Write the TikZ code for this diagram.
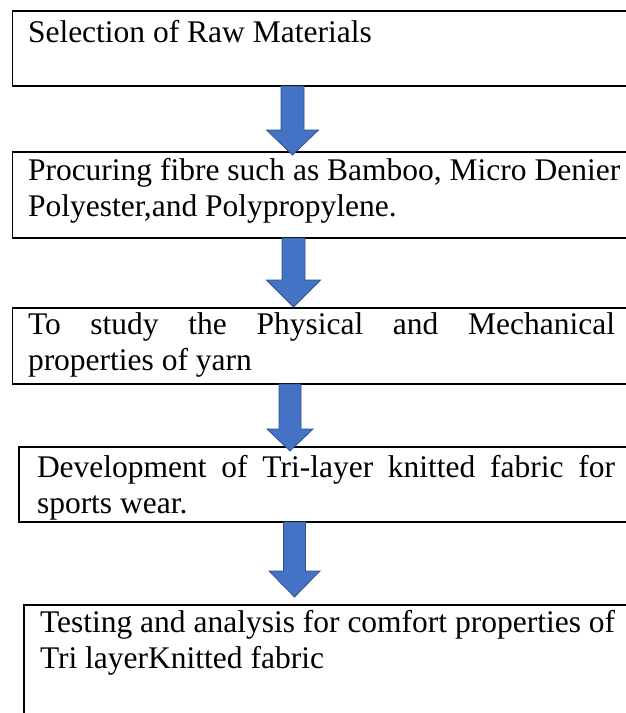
\documentclass[tikz,border=0pt]{standalone}
\usepackage{fontspec}
\setmainfont{Liberation Serif}
\usetikzlibrary{calc}
\definecolor{arrowfill}{HTML}{4472C4}
\definecolor{arrowline}{HTML}{2F528F}
\tikzset{
  boxsty/.style={draw=black, line width=1.6pt, rectangle, inner sep=0pt, outer sep=0pt, anchor=north west},
  txt/.style={inner sep=0pt, outer sep=0pt, anchor=base west, font=\fontsize{31.5}{36}\selectfont},
  arrowsty/.style={fill=arrowfill, draw=arrowline, line width=0.8pt, line join=miter}
}
\newcommand\dnarrow[5]{%
  \filldraw[arrowsty] let \p1=(#1.south -| #2), \p2=(#2) in
    (\x1-#3pt,\y1) -- (\x1+#3pt,\y1) -- (\x1+#3pt,\y2+#5pt) -- (\x1+#4pt,\y2+#5pt)
    -- (\p2) -- (\x1-#4pt,\y2+#5pt) -- (\x1-#3pt,\y2+#5pt) -- cycle;}
\begin{document}
\begin{tikzpicture}[x=1pt,y=-1pt]
\useasboundingbox (0,0) rectangle (626,713);
\clip (0,0) rectangle (626,713);
% boxes
\node[boxsty, minimum width=627.5pt, minimum height=75pt] (b1) at (12.5,11) {};
\node[boxsty, minimum width=627.5pt, minimum height=86pt] (b2) at (12.5,152) {};
\node[boxsty, minimum width=627.5pt, minimum height=76pt] (b3) at (12.5,308) {};
\node[boxsty, minimum width=621pt, minimum height=75pt] (b4) at (19,447) {};
\node[boxsty, minimum width=616pt, minimum height=130pt] (b5) at (24,605) {};
% texts
\node[txt] (t1) at (28,42) {Selection of Raw Materials};
\node[txt] (t2a) at (28,180) {Procuring fibre such as Bamboo, Micro Denier};
\node[txt] (t2b) at (28,216) {Polyester,and Polypropylene.};
\node[txt] (t3a) at (28,334) {\makebox[587pt][s]{To study the Physical and Mechanical}};
\node[txt] (t3b) at (28,370) {properties of yarn};
\node[txt] (t4a) at (37,477) {\makebox[578pt][s]{Development of Tri-layer knitted fabric for}};
\node[txt] (t4b) at (37,513) {sports wear.};
\node[txt] (t5a) at (40,632) {Testing and analysis for comfort properties of};
\node[txt] (t5b) at (40,668) {Tri layerKnitted fabric};
% arrow tips
\coordinate (c1) at (292.5,155);
\coordinate (c2) at (293.5,307);
\coordinate (c3) at (290,451);
\coordinate (c4) at (294.5,597);
% arrows
\dnarrow{b1}{c1}{11.5}{26}{25}
\dnarrow{b2}{c2}{11.5}{27}{27}
\dnarrow{b3}{c3}{11}{23}{22}
\dnarrow{b4}{c4}{11}{25.5}{26}
\end{tikzpicture}
\end{document}
